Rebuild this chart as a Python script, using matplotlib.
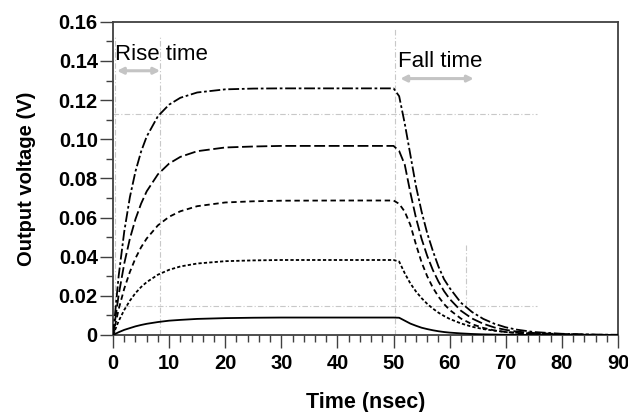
import matplotlib
matplotlib.use("Agg")
import matplotlib.pyplot as plt
from matplotlib.ticker import MultipleLocator

plt.rcParams['font.family'] = ['Liberation Sans', 'DejaVu Sans']

# time axis (ns), shared by all curves
t = [0, 1, 2, 3, 4, 5, 6, 8, 10, 12, 15, 20, 25, 30, 40, 50,
     51, 52, 53, 54, 55, 56, 57, 58, 59, 60, 62, 64, 66, 68, 70, 72, 75, 80, 85, 90]

# output voltages (V)
v1 = [0, 0.0301, 0.0529, 0.0704, 0.0836, 0.0937, 0.1014, 0.1118, 0.1177, 0.1212, 0.1239, 0.1255, 0.1259, 0.126, 0.126, 0.126,
      0.122, 0.108, 0.092, 0.076, 0.063, 0.052, 0.043, 0.035, 0.0285, 0.024, 0.0165, 0.0117, 0.0082, 0.0057, 0.0039, 0.0027, 0.0015, 0.0006, 0.0002, 0.0001]
v2 = [0, 0.0204, 0.0365, 0.0492, 0.0592, 0.0671, 0.0734, 0.0821, 0.0876, 0.0910, 0.0939, 0.0958, 0.0963, 0.0966, 0.0966, 0.0966,
      0.094, 0.087, 0.0727, 0.0598, 0.0491, 0.0404, 0.0332, 0.0273, 0.0224, 0.0184, 0.0124, 0.0084, 0.0057, 0.0038, 0.0026, 0.0017, 0.001, 0.0004, 0.0001, 0.0]
v3 = [0, 0.0131, 0.0237, 0.0322, 0.0392, 0.0448, 0.0493, 0.0560, 0.0604, 0.0632, 0.0658, 0.0677, 0.0683, 0.0686, 0.0687, 0.0687,
      0.067, 0.063, 0.0562, 0.0462, 0.0371, 0.030, 0.0242, 0.0196, 0.0158, 0.0128, 0.0084, 0.0055, 0.0036, 0.0023, 0.0015, 0.001, 0.0005, 0.0002, 0.0001, 0.0]
v4 = [0, 0.0071, 0.0128, 0.0175, 0.0214, 0.0245, 0.0270, 0.0308, 0.0333, 0.0350, 0.0365, 0.0377, 0.0381, 0.0383, 0.0383, 0.0383,
      0.0375, 0.0315, 0.0263, 0.0222, 0.0188, 0.0159, 0.0135, 0.0114, 0.0097, 0.0082, 0.0059, 0.0042, 0.003, 0.0022, 0.0015, 0.0011, 0.0007, 0.0003, 0.0001, 0.0]
v5 = [0, 0.0014, 0.0026, 0.0035, 0.0044, 0.0051, 0.0057, 0.0066, 0.0073, 0.0077, 0.0082, 0.0086, 0.0088, 0.0089, 0.0089, 0.0089,
      0.0088, 0.0073, 0.0058, 0.0047, 0.0037, 0.003, 0.0024, 0.0019, 0.0015, 0.0012, 0.0008, 0.0005, 0.0003, 0.0002, 0.0001, 0.0001, 0.0, 0.0, 0.0, 0.0]

series = [v1, v2, v3, v4, v5]
styles = [(0, (6, 1.5, 1.5, 1.5)), (0, (6, 2)), (0, (3, 2)), (0, (1.8, 1.2)), '-']

# guide lines: horizontal (level, x0, x1) and vertical (time, y0, y1)
h_guides = [(0.113, 0, 75.5), (0.0148, 0, 75.5)]
v_guides = [(0.3, 0, 0.153), (8.4, 0, 0.153), (50.3, 0, 0.157), (62.9, 0.0148, 0.046)]

fig = plt.figure(figsize=(6.28, 4.12), dpi=100)
ax = fig.add_axes([0.18, 0.187, 0.804, 0.76])

guide_kw = dict(color='#c8c8c8', lw=0.8, ls=(0, (5, 2, 1, 2)), zorder=1)
for y, x0, x1 in h_guides:
    ax.plot([x0, x1], [y, y], **guide_kw)
for x, y0, y1 in v_guides:
    ax.plot([x, x], [y0, y1], **guide_kw)

for v, ls in zip(series, styles):
    ax.plot(t, v, color='black', lw=1.3, ls=ls, zorder=3)

arrow_kw = dict(arrowstyle='<|-|>', color='#c4c4c4', lw=2.2, mutation_scale=9, shrinkA=0, shrinkB=0)
ax.annotate('', xy=(0.7, 0.135), xytext=(8.4, 0.135), arrowprops=arrow_kw)
ax.annotate('', xy=(51.2, 0.131), xytext=(64.3, 0.131), arrowprops=arrow_kw)
ax.text(0.3, 0.1405, 'Rise time', fontsize=16, va='baseline', ha='left')
ax.text(50.8, 0.137, 'Fall time', fontsize=16, va='baseline', ha='left')

ax.set_xlim(0, 90)
ax.set_ylim(0, 0.16)
ax.xaxis.set_major_locator(MultipleLocator(10))
ax.xaxis.set_minor_locator(MultipleLocator(2))
ax.yaxis.set_major_locator(MultipleLocator(0.02))
ax.yaxis.set_minor_locator(MultipleLocator(0.01))
ax.yaxis.set_major_formatter(lambda y, pos: '0' if y == 0 else f'{y:.2f}')

for s in ax.spines.values():
    s.set_color('#404040')
    s.set_linewidth(1.3)
ax.tick_params(which='major', length=9.5, width=1, color='#404040', labelsize=14.5)
ax.tick_params(axis='x', which='major', pad=4)
ax.tick_params(axis='y', which='major', pad=1.5)
ax.tick_params(which='minor', length=5, width=1, color='#404040')
for lab in ax.get_xticklabels() + ax.get_yticklabels():
    lab.set_fontweight('bold')

ax.set_xlabel('Time (nsec)', fontsize=15.5, fontweight='bold', labelpad=14)
ax.set_ylabel('Output voltage (V)', fontsize=14.5, fontweight='bold', labelpad=16)

fig.savefig('out.png', dpi=100)
